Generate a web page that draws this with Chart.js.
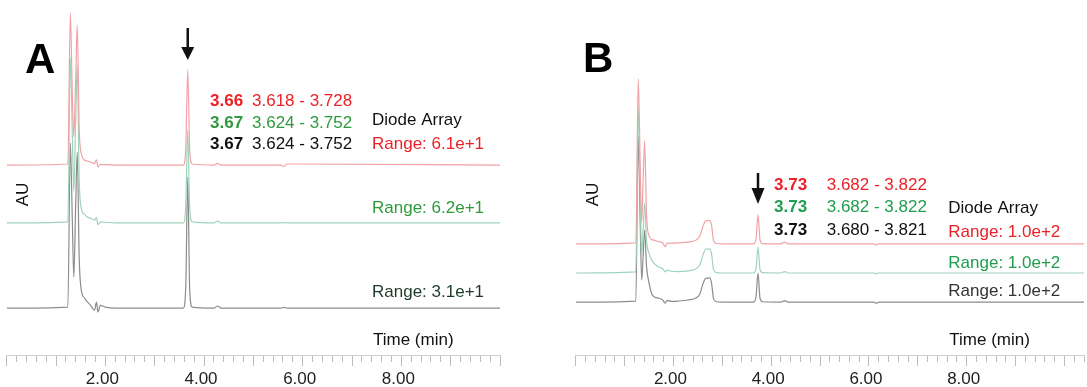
<!DOCTYPE html>
<html>
<head>
<meta charset="utf-8">
<script src="https://cdn.jsdelivr.net/npm/chart.js@4.4.0/dist/chart.umd.min.js"></script>
<style>
  html, body { margin: 0; padding: 0; background: #fff; }
  #wrapA { position: absolute; left: 0; top: 0; width: 540px; height: 387px; }
  #wrapB { position: absolute; left: 545px; top: 0; width: 542px; height: 387px; }
</style>
</head>
<body>
<div id="wrapA"><canvas id="chartA"></canvas></div>
<div id="wrapB"><canvas id="chartB"></canvas></div>
<script>
// ---- Panel A : retention time (min) and signal of each trace ----
const timeA  = [0, 1.24, 1.29, 1.33, 1.36, 1.40, 1.43, 1.47, 1.52, 1.57, 1.62, 1.70, 1.78, 1.82, 1.85, 1.90, 2.00, 2.20, 3.58, 3.63, 3.67, 3.71, 3.76, 4.20, 4.27, 4.35, 5.55, 5.62, 5.68, 10];
const redA   = [0, 0.3, 42.8, 20, 8, 25, 39.4, 10, 2.8, 1.5, 1.2, 0.8, 0.4, 1.5, -0.6, 0.2, 0.1, 0, 0, 5, 26.8, 4, 0.3, 0, 0.5, 0, 0, -0.4, 0.3, 0];
const greenA = [0, 0.3, 46.5, 25, 9, 30, 44.5, 12, 3.7, 2.5, 1.8, 1.3, 0.8, 1.5, -0.5, 0.3, 0.2, 0, 0, 5, 26.2, 4, 0.3, 0, 0.5, 0, 0, 0.1, 0, 0];
const blackA = [0, 0.3, 46.5, 25, 8.7, 30, 43.9, 14, 4.5, 3, 2, 0.8, -0.6, 1.7, -1.1, 0.8, 0.3, 0, 0, 6, 36.9, 5, 0.3, 0, 0.6, 0, 0, 0.2, 0, 0];
const offsetA = [53.5, 37.2, 13.2];   // stacking of red, green, black traces

// ---- Panel B ----
const timeB  = [0, 1.23, 1.28, 1.32, 1.35, 1.38, 1.41, 1.45, 1.50, 1.56, 1.62, 1.70, 1.78, 1.83, 1.87, 1.95, 2.10, 2.30, 2.45, 2.54, 2.60, 2.66, 2.74, 2.78, 2.82, 2.88, 3.00, 3.64, 3.69, 3.73, 3.77, 3.82, 4.20, 4.27, 4.35, 6.10, 6.15, 6.20, 10.4];
const redB   = [0, 0.3, 46.5, 22, 6, 18, 29, 8, 2.3, 1.2, 1.0, 0.6, 0.3, -0.8, 0.2, 0.2, 0.3, 0.5, 1.0, 2.2, 4.8, 6.5, 6.6, 5.2, 1.0, 0.1, 0, 0, 1.5, 8.2, 1.2, 0.1, 0, 0.5, 0, 0, -0.3, 0, 0];
const greenB = [0, 0.3, 46.5, 22, 5, 12, 19.7, 9, 5.6, 3.5, 2.5, 1.7, 1.2, 0.3, 0.8, 0.5, 0.4, 0.6, 1.1, 2.3, 4.9, 6.7, 6.8, 5.3, 1.0, 0.1, 0, 0, 1.3, 7.3, 1.1, 0.1, 0, 0.4, 0, 0, -0.2, 0, 0];
const blackB = [0, 0.3, 46.5, 22, 6.2, 13, 20.3, 10, 5.4, 2.2, 1.4, 1.1, 0.6, -0.3, 0.5, 0.2, 0.3, 0.6, 1.1, 2.3, 5.0, 6.7, 6.8, 5.3, 1.0, 0.1, 0, 0, 1.5, 8.2, 1.2, 0.1, 0, 0.4, 0, 0, -0.3, 0, 0];
const offsetB = [31.3, 23.1, 14.9];

const tickLabels = [2, 4, 6, 8];   // labelled minutes on the time axis

const RED = '#ec2027', GREEN_A = '#2f9a3c', GREEN_B = '#1f9e4f', BLACK = '#111';
const traceColors = ['#f2a2a6', '#9fd4ba', '#8c8c8c'];
const FONT = '"Liberation Sans", Arial, sans-serif';

// draws panel letters, peak labels and the arrow
const notesPlugin = {
  id: 'notes',
  afterDraw(chart, args, opts) {
    const ctx = chart.ctx;
    (opts.items || []).forEach(n => {
      ctx.save();
      ctx.font = (n.bold ? 'bold ' : '') + (n.size || 17) + 'px ' + FONT;
      ctx.fillStyle = n.color || BLACK;
      ctx.textAlign = n.align || 'left';
      ctx.textBaseline = 'alphabetic';
      ctx.translate(n.x, n.y);
      if (n.rotate) ctx.rotate(n.rotate);
      ctx.fillText(n.text, 0, 0);
      ctx.restore();
    });
    if (opts.arrow) {
      const a = opts.arrow;
      const x = chart.scales.x.getPixelForValue(a.time);
      ctx.save();
      ctx.strokeStyle = '#111';
      ctx.fillStyle = '#111';
      ctx.lineWidth = 2.5;
      ctx.beginPath(); ctx.moveTo(x, a.top); ctx.lineTo(x, a.headTop + 2); ctx.stroke();
      ctx.beginPath();
      ctx.moveTo(x - a.half, a.headTop);
      ctx.lineTo(x + a.half, a.headTop);
      ctx.lineTo(x, a.bottom);
      ctx.closePath(); ctx.fill();
      ctx.restore();
    }
  }
};

function isMajor(v) { return Math.abs(v - Math.round(v)) < 1e-6; }

function makeChart(id, times, traces, offsets, xMax, padLeft, padRight, notes) {
  const datasets = traces.map((vals, i) => ({
    data: times.map((t, j) => ({ x: t, y: vals[j] + offsets[i] })),
    borderColor: traceColors[i],
    borderWidth: 1.2,
    pointRadius: 0,
    fill: false,
    cubicInterpolationMode: 'monotone'
  }));
  return new Chart(document.getElementById(id), {
    type: 'line',
    data: { datasets },
    plugins: [notesPlugin],
    options: {
      responsive: true,
      maintainAspectRatio: false,
      animation: false,
      layout: { padding: { left: padLeft, right: padRight, top: 0, bottom: 0 } },
      plugins: { legend: { display: false }, tooltip: { enabled: false }, notes: notes },
      scales: {
        x: {
          type: 'linear', min: 0, max: xMax,
          afterFit: s => { s.height = 32; },
          border: { display: true, color: '#cfcfcf' },
          grid: {
            drawOnChartArea: false, drawTicks: true, tickLength: 11, tickColor: '#bdbdbd',
            tickBorderDash: c => (c.tick && isMajor(c.tick.value)) ? [] : [6, 20]
          },
          ticks: {
            stepSize: 0.2, autoSkip: false, maxRotation: 0, padding: 3, labelOffset: -3,
            color: '#222', font: { family: FONT, size: 17 },
            callback: v => tickLabels.some(t => Math.abs(t - v) < 1e-6) ? v.toFixed(2) : ''
          }
        },
        y: { display: false, min: 0, max: 100 }
      }
    }
  });
}

makeChart('chartA', timeA, [redA, greenA, blackA], offsetA, 10, 6.7, 40, {
  arrow: { time: 3.67, top: 28, headTop: 47, bottom: 60, half: 6.5 },
  items: [
    { text: 'A', x: 25, y: 73, size: 42, bold: true, color: '#000' },
    { text: 'AU', x: 28, y: 194.5, align: 'center', rotate: -Math.PI / 2 },
    { text: '3.66', x: 210, y: 106, bold: true, color: RED },
    { text: '3.618 - 3.728', x: 252, y: 106, color: RED },
    { text: '3.67', x: 210, y: 128, bold: true, color: GREEN_A },
    { text: '3.624 - 3.752', x: 252, y: 128, color: GREEN_A },
    { text: '3.67', x: 210, y: 148.5, bold: true, color: BLACK },
    { text: '3.624 - 3.752', x: 252, y: 148.5, color: BLACK },
    { text: 'Diode Array', x: 372, y: 125, color: BLACK },
    { text: 'Range: 6.1e+1', x: 372, y: 149, color: RED },
    { text: 'Range: 6.2e+1', x: 372, y: 213, color: GREEN_A },
    { text: 'Range: 3.1e+1', x: 372, y: 297, color: '#1d3b2a' },
    { text: 'Time (min)', x: 373, y: 345, color: BLACK }
  ]
});

makeChart('chartB', timeB, [redB, greenB, blackB], offsetB, 10.4, 30.7, 0, {
  arrow: { time: 3.73, top: 173, headTop: 188, bottom: 204, half: 6.5 },
  items: [
    { text: 'B', x: 38, y: 72, size: 42, bold: true, color: '#000' },
    { text: 'AU', x: 53, y: 194.5, align: 'center', rotate: -Math.PI / 2 },
    { text: '3.73', x: 229, y: 189.5, bold: true, color: RED },
    { text: '3.682 - 3.822', x: 281.7, y: 189.5, color: RED },
    { text: '3.73', x: 229, y: 212, bold: true, color: GREEN_B },
    { text: '3.682 - 3.822', x: 281.7, y: 212, color: GREEN_B },
    { text: '3.73', x: 229, y: 234.5, bold: true, color: BLACK },
    { text: '3.680 - 3.821', x: 281.7, y: 234.5, color: BLACK },
    { text: 'Diode Array', x: 403.3, y: 213.3, color: BLACK },
    { text: 'Range: 1.0e+2', x: 403.3, y: 236.7, color: RED },
    { text: 'Range: 1.0e+2', x: 403.3, y: 267.7, color: GREEN_B },
    { text: 'Range: 1.0e+2', x: 403.3, y: 296, color: '#333' },
    { text: 'Time (min)', x: 404.3, y: 345, color: BLACK }
  ]
});
</script>
</body>
</html>
